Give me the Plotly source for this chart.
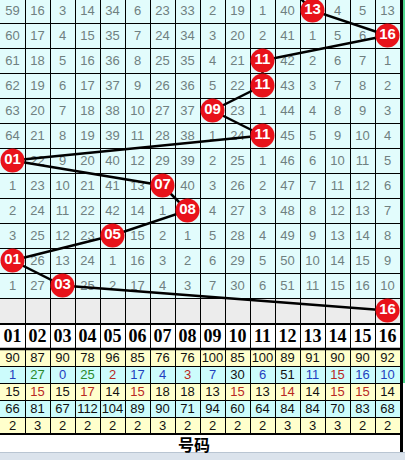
import plotly.graph_objects as go

# ---- data -------------------------------------------------------------
columns = [f"{i:02d}" for i in range(1, 17)]

# winning number of each visible draw (top to bottom)
draws = [13, 16, 11, 11, 9, 11, 1, 7, 8, 5, 1, 3]
prev_draw = 12          # draw just above the first visible row
next_pick = 16          # pick shown in the blank forecast row

# omission counts per draw, 0 = number was drawn
omission = [
    [59, 16, 3, 14, 34, 6, 23, 33, 2, 19, 1, 40, 0, 4, 5, 13],
    [60, 17, 4, 15, 35, 7, 24, 34, 3, 20, 2, 41, 1, 5, 6, 0],
    [61, 18, 5, 16, 36, 8, 25, 35, 4, 21, 0, 42, 2, 6, 7, 1],
    [62, 19, 6, 17, 37, 9, 26, 36, 5, 22, 0, 43, 3, 7, 8, 2],
    [63, 20, 7, 18, 38, 10, 27, 37, 0, 23, 1, 44, 4, 8, 9, 3],
    [64, 21, 8, 19, 39, 11, 28, 38, 1, 24, 0, 45, 5, 9, 10, 4],
    [0, 22, 9, 20, 40, 12, 29, 39, 2, 25, 1, 46, 6, 10, 11, 5],
    [1, 23, 10, 21, 41, 13, 0, 40, 3, 26, 2, 47, 7, 11, 12, 6],
    [2, 24, 11, 22, 42, 14, 1, 0, 4, 27, 3, 48, 8, 12, 13, 7],
    [3, 25, 12, 23, 0, 15, 2, 1, 5, 28, 4, 49, 9, 13, 14, 8],
    [0, 26, 13, 24, 1, 16, 3, 2, 6, 29, 5, 50, 10, 14, 15, 9],
    [1, 27, 0, 25, 2, 17, 4, 3, 7, 30, 6, 51, 11, 15, 16, 10],
]

appear_count = [90, 87, 90, 78, 96, 85, 76, 76, 100, 85, 100, 89, 91, 90, 90, 92]
current_miss = [1, 27, 0, 25, 2, 17, 4, 3, 7, 30, 6, 51, 11, 15, 16, 10]
current_tone = ["c", "g", "c", "g", "h", "c", "c", "h", "c", "n", "c", "n", "c", "h", "c", "c"]
avg_miss = [15, 15, 15, 17, 14, 15, 18, 18, 13, 15, 13, 14, 14, 15, 15, 14]
avg_tone = ["n", "h", "n", "h", "n", "h", "n", "n", "n", "h", "n", "h", "n", "h", "h", "n"]
max_miss = [66, 81, 67, 112, 104, 89, 90, 71, 94, 60, 64, 84, 84, 70, 83, 68]
max_run = [2, 3, 2, 2, 2, 2, 3, 2, 2, 2, 2, 3, 3, 3, 2, 2]

footer_label = "号码"

# ---- layout constants ------------------------------------------------
W, H = 405, 460
CW = 25                 # column width
RH = 25                 # draw row height
TOP = -2                # top edge of first draw row
SH = 17                 # stats row height
NCOL = len(columns)
NROW = len(omission)

GRID_BOTTOM = TOP + RH * (NROW + 1)        # after forecast row
HEAD_TOP = GRID_BOTTOM
HEAD_BOT = HEAD_TOP + 26
STATS_TOP = HEAD_BOT
STATS_BOT = STATS_TOP + SH * 5
FOOT_BOT = STATS_BOT + 18
RIGHT = CW * NCOL

TONE = {"n": "#111111", "c": "#1f3fbf", "g": "#2a8a2a", "h": "#b8281e"}
NUM_FONT = "Liberation Sans"


def xc(i):
    return CW * i + CW / 2


def yc(r):
    return TOP + RH * r + RH / 2


def ys(k):
    return STATS_TOP + SH * k + SH / 2


shapes = []


def rect(x0, y0, x1, y1, fill):
    shapes.append(dict(type="rect", xref="x", yref="y", x0=x0, y0=y0, x1=x1, y1=y1,
                       fillcolor=fill, line=dict(width=0), layer="below"))


def line(x0, y0, x1, y1, w=1, color="#000000"):
    shapes.append(dict(type="line", xref="x", yref="y", x0=x0, y0=y0, x1=x1, y1=y1,
                       line=dict(color=color, width=w), layer="below"))


# backgrounds
rect(0, TOP, RIGHT, TOP + RH * NROW, "#e2fcfc")
rect(0, TOP + RH * NROW, RIGHT, GRID_BOTTOM, "#ececec")
rect(0, HEAD_TOP, RIGHT, HEAD_BOT, "#ffffff")
stat_fills = ["#ffffcc", "#ccfcfc", "#ffffcc", "#ccfcfc", "#ffffcc"]
for k, f in enumerate(stat_fills):
    rect(0, STATS_TOP + SH * k, RIGHT, STATS_TOP + SH * (k + 1), f)
# right-hand strip and bottom bar
rect(RIGHT + 3, 0, W, STATS_TOP + SH * 2, "#4fd68e")
rect(0, FOOT_BOT, W, H, "#dbe3ec")
line(0, FOOT_BOT + 0.5, W, FOOT_BOT + 0.5, 1, "#b9c5d2")

# grid lines
for r in range(1, NROW + 1):
    line(0, TOP + RH * r + 0.5, RIGHT, TOP + RH * r + 0.5)
for k in range(1, 5):
    line(0, STATS_TOP + SH * k + 0.5, RIGHT, STATS_TOP + SH * k + 0.5)
for i in range(1, NCOL):
    line(CW * i + 0.5, 0, CW * i + 0.5, STATS_BOT)
line(0, HEAD_TOP + 1, RIGHT, HEAD_TOP + 1, 2)
line(0, HEAD_BOT, RIGHT, HEAD_BOT, 2.5)
line(0, STATS_BOT, RIGHT, STATS_BOT, 2)
line(RIGHT + 1.5, 0, RIGHT + 1.5, FOOT_BOT, 3)

fig = go.Figure()

# omission numbers
tx, ty, tt = [], [], []
for r, row in enumerate(omission):
    for i, v in enumerate(row):
        if v != 0:
            tx.append(xc(i))
            ty.append(yc(r) + 1)
            tt.append(str(v))
fig.add_trace(go.Scatter(x=tx, y=ty, text=tt, mode="text", hoverinfo="skip",
                         textfont=dict(family=NUM_FONT, size=13, color="#6f8080")))

# trend line through the drawn numbers
path_cols = [prev_draw] + draws + [next_pick]
path_rows = list(range(-1, NROW + 1))
fig.add_trace(go.Scatter(x=[xc(c - 1) for c in path_cols], y=[yc(r) for r in path_rows],
                         mode="lines", line=dict(color="#000000", width=2.5),
                         hoverinfo="skip", cliponaxis=True))

# balls
ball_cols = draws + [next_pick]
fig.add_trace(go.Scatter(
    x=[xc(c - 1) for c in ball_cols], y=[yc(r) for r in range(NROW + 1)],
    mode="markers+text", text=[f"{c:02d}" for c in ball_cols],
    textposition="middle center",
    marker=dict(size=24, color="#e8121a", line=dict(width=0)),
    textfont=dict(family="Liberation Sans", size=15, color="#ffffff", weight="bold"),
    hoverinfo="skip"))

# header
fig.add_trace(go.Scatter(x=[xc(i) for i in range(NCOL)], y=[(HEAD_TOP + HEAD_BOT) / 2 + 1] * NCOL,
                         text=columns, mode="text", hoverinfo="skip",
                         textfont=dict(family="Liberation Serif", size=18, color="#000000",
                                       weight="bold")))

# statistics rows
stat_rows = [
    (appear_count, ["n"] * NCOL),
    (current_miss, current_tone),
    (avg_miss, avg_tone),
    (max_miss, ["n"] * NCOL),
    (max_run, ["n"] * NCOL),
]
for k, (vals, tones) in enumerate(stat_rows):
    fig.add_trace(go.Scatter(x=[xc(i) for i in range(NCOL)], y=[ys(k) + 1] * NCOL,
                             text=[str(v) for v in vals], mode="text", hoverinfo="skip",
                             textfont=dict(family=NUM_FONT, size=13,
                                           color=[TONE[t] for t in tones])))

fig.add_annotation(x=194, y=(STATS_BOT + FOOT_BOT) / 2 + 1, text=f"<b>{footer_label}</b>",
                   showarrow=False, xref="x", yref="y",
                   font=dict(family="Noto Sans CJK SC", size=16, color="#000000"))

fig.update_layout(
    width=W, height=H, margin=dict(l=0, r=0, t=0, b=0),
    paper_bgcolor="#ffffff", plot_bgcolor="#ffffff",
    showlegend=False, shapes=shapes,
    xaxis=dict(range=[0, W], visible=False, fixedrange=True),
    yaxis=dict(range=[H, 0], visible=False, fixedrange=True),
)

fig.write_html("out.html", config={"displayModeBar": False})
